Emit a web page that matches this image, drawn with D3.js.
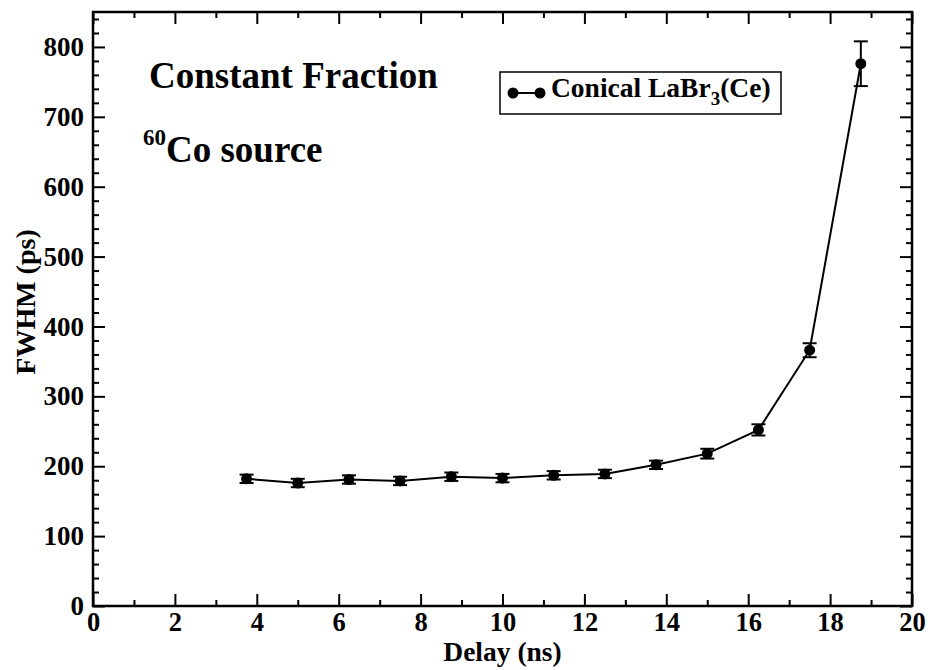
<!DOCTYPE html>
<html>
<head>
<meta charset="utf-8">
<script src="https://cdn.jsdelivr.net/npm/d3@7"></script>
<style>
  html, body { margin: 0; padding: 0; background: #fff; }
  svg text { font-family: "Liberation Serif", "Times New Roman", serif; font-weight: bold; fill: #000; }
</style>
</head>
<body>
<svg id="chart" width="931" height="670"></svg>
<script>
// ---- data ----
const delays = [3.75, 5, 6.25, 7.5, 8.75, 10, 11.25, 12.5, 13.75, 15, 16.25, 17.5, 18.75];
const fwhm   = [182, 176, 181, 179, 185, 183, 187, 189, 202, 218, 252, 366, 776];
const fwhmErr = [6, 6, 6, 6, 6, 6, 6, 6, 6, 7, 8, 10, 32];
const xTicks = [0, 2, 4, 6, 8, 10, 12, 14, 16, 18, 20];
const yTicks = [0, 100, 200, 300, 400, 500, 600, 700, 800];
const seriesName = "Conical LaBr";

const FONT = '"Liberation Serif", "Times New Roman", serif';
const margin = { left: 93, right: 19, top: 12, bottom: 64 };
const W = 931, H = 670;
const svg = d3.select("#chart");
const x = d3.scaleLinear().domain([0, 20]).range([margin.left, W - margin.right]);
const y = d3.scaleLinear().domain([0, 850]).range([H - margin.bottom, margin.top]);

const x0 = x.range()[0], x1 = x.range()[1], y0 = y.range()[0], y1 = y.range()[1];
const xMinor = d3.range(0, 20.001, 1).filter(v => v % 2 !== 0);
const yMinor = d3.range(0, 850.001, 20).filter(v => v % 100 !== 0);

function styleAxis(g, fs) {
  g.attr("font-family", FONT).attr("font-size", fs);
  g.select(".domain").remove();
  g.selectAll("line").attr("stroke", "#000").attr("stroke-width", 2);
  g.selectAll("text").style("font-size", fs + "px").style("font-family", FONT).style("font-weight", "bold");
}

// bottom axis
svg.append("g").attr("transform", `translate(0,${y0})`)
  .call(d3.axisBottom(x).tickValues(xTicks).tickFormat(d3.format("d")).tickSize(-12).tickPadding(6))
  .call(g => styleAxis(g, 26.5));
svg.append("g").attr("transform", `translate(0,${y0})`)
  .call(d3.axisBottom(x).tickValues(xMinor).tickFormat("").tickSize(-6))
  .call(g => styleAxis(g, 26.5));
// top axis
svg.append("g").attr("transform", `translate(0,${y1})`)
  .call(d3.axisTop(x).tickValues(xTicks).tickFormat("").tickSize(-12))
  .call(g => styleAxis(g, 26.5));
svg.append("g").attr("transform", `translate(0,${y1})`)
  .call(d3.axisTop(x).tickValues(xMinor).tickFormat("").tickSize(-6))
  .call(g => styleAxis(g, 26.5));
// left axis
svg.append("g").attr("transform", `translate(${x0},0)`)
  .call(d3.axisLeft(y).tickValues(yTicks).tickFormat(d3.format("d")).tickSize(-12).tickPadding(9))
  .call(g => styleAxis(g, 27));
svg.append("g").attr("transform", `translate(${x0},0)`)
  .call(d3.axisLeft(y).tickValues(yMinor).tickFormat("").tickSize(-6))
  .call(g => styleAxis(g, 27));
// right axis
svg.append("g").attr("transform", `translate(${x1},0)`)
  .call(d3.axisRight(y).tickValues(yTicks).tickFormat("").tickSize(-12))
  .call(g => styleAxis(g, 27));
svg.append("g").attr("transform", `translate(${x1},0)`)
  .call(d3.axisRight(y).tickValues(yMinor).tickFormat("").tickSize(-6))
  .call(g => styleAxis(g, 27));

// frame
svg.append("rect").attr("x", x0).attr("y", y1).attr("width", x1 - x0).attr("height", y0 - y1)
  .attr("fill", "none").attr("stroke", "#000").attr("stroke-width", 2.5);

// axis titles
svg.append("text").attr("x", (x0 + x1) / 2).attr("y", 661).attr("text-anchor", "middle")
  .style("font-size", "27.5px").text("Delay (ns)");
svg.append("text").attr("transform", `translate(35,${(y0 + y1) / 2 - 7}) rotate(-90)`).attr("text-anchor", "middle")
  .style("font-size", "28px").text("FWHM (ps)");

// data
const pts = delays.map((d, i) => ({ x: d, y: fwhm[i], e: fwhmErr[i] }));
svg.append("path").datum(pts)
  .attr("d", d3.line().x(d => x(d.x)).y(d => y(d.y)))
  .attr("fill", "none").attr("stroke", "#000").attr("stroke-width", 2);

const eb = svg.append("g").attr("stroke", "#000").attr("stroke-width", 2);
pts.forEach(p => {
  const cx = x(p.x), ya = y(p.y + p.e), yb = y(p.y - p.e);
  eb.append("line").attr("x1", cx).attr("x2", cx).attr("y1", ya).attr("y2", yb);
  eb.append("line").attr("x1", cx - 7).attr("x2", cx + 7).attr("y1", ya).attr("y2", ya);
  eb.append("line").attr("x1", cx - 7).attr("x2", cx + 7).attr("y1", yb).attr("y2", yb);
});
svg.append("g").selectAll("circle").data(pts).join("circle")
  .attr("cx", d => x(d.x)).attr("cy", d => y(d.y)).attr("r", 5.5).attr("fill", "#000");

// annotations
svg.append("text").attr("x", 149).attr("y", 88).style("font-size", "37px").text("Constant Fraction");
const t2 = svg.append("text").attr("x", 143).attr("y", 162).style("font-size", "37px");
t2.append("tspan").style("font-size", "23px").attr("dy", -17).text("60");
t2.append("tspan").attr("dy", 17).text("Co source");

// legend
const lg = svg.append("g");
lg.append("rect").attr("x", 500).attr("y", 72).attr("width", 281).attr("height", 42)
  .attr("fill", "#fff").attr("stroke", "#000").attr("stroke-width", 1.5);
lg.append("line").attr("x1", 513).attr("x2", 540).attr("y1", 93).attr("y2", 93)
  .attr("stroke", "#000").attr("stroke-width", 2);
lg.append("circle").attr("cx", 513).attr("cy", 93).attr("r", 5.5).attr("fill", "#000");
lg.append("circle").attr("cx", 540).attr("cy", 93).attr("r", 5.5).attr("fill", "#000");
const lt = lg.append("text").attr("x", 551).attr("y", 97).style("font-size", "27.5px");
lt.append("tspan").text(seriesName);
lt.append("tspan").style("font-size", "19px").attr("dy", 8).text("3");
lt.append("tspan").attr("dy", -8).text("(Ce)");
</script>
</body>
</html>
